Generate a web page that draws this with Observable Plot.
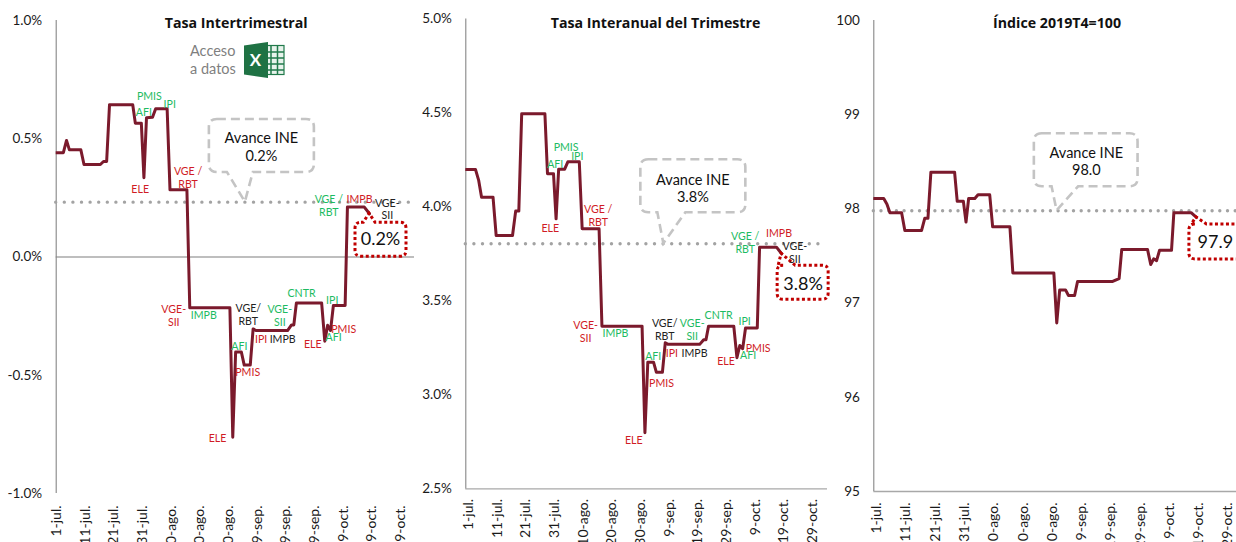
<!DOCTYPE html>
<html lang="es">
<head>
<meta charset="utf-8">
<script src="https://cdn.jsdelivr.net/npm/d3@7"></script>
<script src="https://cdn.jsdelivr.net/npm/@observablehq/plot@0.6"></script>
<style>
html,body{margin:0;padding:0;background:#fff;width:1236px;height:542px;overflow:hidden;font-family:Lato,sans-serif}
.panel{position:absolute;top:0}
.panel svg{display:block;background:transparent}
#acceso{position:absolute;left:190px;top:42px;color:#7f7f7f;font-size:14.5px;line-height:17.5px}
#xls{position:absolute;left:244px;top:42px}
</style>
</head>
<body>
<div id="root"></div>
<div id="acceso">Acceso<br>a datos</div>
<svg id="xls" width="41" height="36" viewBox="0 0 41 36">
  <rect x="14" y="3.5" width="26" height="29" fill="#e8f3ec" stroke="#217a4b" stroke-width="1.2"/>
  <path d="M27 4v28M33.5 4v28M14 10h26M14 16h26M14 22h26M14 28h26" stroke="#217a4b" stroke-width="1.5" fill="none"/>
  <path d="M0 3.5 L24 0 V36 L0 32.5 Z" fill="#1f7244"/>
  <text x="11.5" y="24" text-anchor="middle" font-family="Lato" font-weight="700" font-size="17" fill="#fff">X</text>
</svg>
<script>
// Shared dates (days from the start of the axis)
const days = [0,3.4,4.5,5.5,9.5,10.6,16.3,17.4,18.5,19.5,27.6,28.5,30.6,31.5,32.4,34.5,35.6,39.6,40.6,46.5,47.5,61.5,62.5,63.5,65.5,66.5,68.6,69.6,70.6,81.6,83,83.8,84.7,93.5,94.6,95.6,96.6,97.6,101.7,102.5,108.4,110.2];

const qoq = [0.441,0.441,0.493,0.453,0.453,0.391,0.391,0.404,0.404,0.644,0.644,0.566,0.566,0.335,0.589,0.591,0.627,0.627,0.284,0.284,-0.215,-0.215,-0.762,-0.402,-0.402,-0.457,-0.457,-0.304,-0.311,-0.311,-0.287,-0.287,-0.194,-0.194,-0.356,-0.289,-0.311,-0.205,-0.205,0.211,0.211,0.183];
const yoy = [4.199,4.199,4.141,4.052,4.052,3.848,3.848,3.978,3.978,4.496,4.496,4.177,4.177,3.937,4.201,4.201,4.240,4.240,3.884,3.884,3.366,3.366,2.799,3.174,3.174,3.120,3.120,3.278,3.269,3.269,3.294,3.294,3.366,3.366,3.198,3.263,3.246,3.356,3.356,3.786,3.786,3.751];
const index = [98.11,98.11,98.05,97.96,97.96,97.77,97.77,97.90,97.90,98.39,98.39,98.08,98.08,97.86,98.11,98.11,98.15,98.15,97.81,97.81,97.32,97.32,96.79,97.14,97.14,97.08,97.08,97.23,97.23,97.23,97.25,97.26,97.57,97.57,97.41,97.47,97.45,97.56,97.56,97.96,97.96,97.91];

const xTickDays = [1,11,21,31,41,51,61,71,81,91,101,111,121];
const xTickLabels = ["1-jul.","11-jul.","21-jul.","31-jul.","10-ago.","20-ago.","30-ago.","9-sep.","19-sep.","29-sep.","9-oct.","19-oct.","29-oct."];

// Indicator labels
const labelText = ["PMIS","AFI","IPI","ELE","VGE /\nRBT","VGE /\nRBT","IMPB","VGE-\nSII","VGE-\nSII","IMPB","VGE/\nRBT","AFI","PMIS","IPI","IMPB","VGE-\nSII","CNTR","IPI","PMIS","AFI","ELE","ELE"];
const labelTone = ["g","g","g","r","r","g","r","k","r","g","k","g","r","r","k","g","g","g","r","g","r","r"];
const qoqLabelDay = [33.4,31.5,40.5,30.2,46.9,96,106.7,116.4,41.9,52.4,67.9,64.8,67.7,72.4,79.9,78.9,86.5,97.2,101.2,97.7,90.4,57.2];
const qoqLabelVal = [0.679,0.615,0.648,0.288,0.336,0.219,0.246,0.203,-0.247,-0.247,-0.242,-0.378,-0.488,-0.345,-0.345,-0.246,-0.151,-0.180,-0.304,-0.336,-0.367,-0.763];
const yoyLabelDay = [35,31.2,38.9,29.5,46.2,97.5,109.3,114.8,41.8,52.2,69.4,65.4,68.3,71.9,79.8,79,88.2,97.3,102,98.5,90.8,58.6];
const yoyLabelVal = [4.318,4.230,4.274,3.886,3.955,3.810,3.861,3.758,3.336,3.329,3.347,3.210,3.065,3.224,3.224,3.350,3.428,3.396,3.251,3.212,3.182,2.762];

const tones = {g:"#1dbb62", r:"#d01c25", k:"#222222"};
const lineColor = "#7b1a2c";

const panels = [
  {left:0, width:420, marginLeft:55.7, marginRight:6, marginTop:20, marginBottom:49,
   xDomain:[0.9,125.9], yDomain:[-1,1], yTicks:[-1,-0.5,0,0.5,1], yFmt:d=>d.toFixed(1)+"%",
   series:qoq, base:0, title:"Tasa Intertrimestral", titleAt:[63.7,0.987],
   ine:0.232, ineLabel:"Avance INE\n0.2%", tip:[66.9,0.232], box:[-36,69,-82.7,-29.7,-18,8], txt:[16,-55.7],
   end:"0.2%", endBox:[-14,37,9,43,-5.7,6], endTxt:[11,26], dotEnd:125.9, dot:8.6, tickPad:12,
   labelDay:qoqLabelDay, labelVal:qoqLabelVal},
  {left:420, width:420, marginLeft:45.3, marginRight:13, marginTop:18.5, marginBottom:53.6,
   xDomain:[0,126.2], yDomain:[2.5,5], yTicks:[2.5,3,3.5,4,4.5,5], yFmt:d=>d.toFixed(1)+"%",
   series:yoy, base:2.5, title:"Tasa Interanual del Trimestre", titleAt:[66.2,4.976],
   ine:3.804, ineLabel:"Avance INE\n3.8%", tip:[69.1,3.804], box:[-23,82,-84,-31,-6,22], txt:[29,-56],
   end:"3.8%", endBox:[-4,47,12,46,-3,14], endTxt:[21.5,30], dotEnd:124.3, dot:8.6, tickPad:10,
   labelDay:yoyLabelDay, labelVal:yoyLabelVal},
  {left:830, width:406, marginLeft:43.3, marginRight:0, marginTop:20, marginBottom:51,
   xDomain:[0,123.9], yDomain:[95,100], yTicks:[95,96,97,98,99,100], yFmt:d=>String(d),
   series:index, base:95, title:"Índice 2019T4=100", titleAt:[62.6,99.968],
   ine:97.98, ineLabel:"Avance INE\n98.0", tip:[62.6,97.98], box:[-22.7,81,-77,-24,-5,21.6], txt:[29.3,-50],
   end:"97.9", endBox:[-7,49,7,42,-4.5,10.5], endTxt:[19,25], dotEnd:123.9, dot:7.7, tickPad:11,
   labelDay:[], labelVal:[]}
];

function calloutPath([L,R,T,B,bl,br], r){
  const bottom = T < 0 ? `H${br}L0,0L${bl},${B}` : "";
  const top = T > 0 ? `H${bl}L0,0L${br},${T}` : "";
  return `M${L+r},${T}${top}H${R-r}Q${R},${T} ${R},${T+r}V${B-r}Q${R},${B} ${R-r},${B}${bottom}H${L+r}Q${L},${B} ${L},${B-r}V${T+r}Q${L},${T} ${L+r},${T}Z`;
}
function callout(at, box, r, stroke, width, dash){
  return (index, scales) => {
    const g = document.createElementNS("http://www.w3.org/2000/svg","g");
    g.setAttribute("transform",`translate(${scales.x(at[0])},${scales.y(at[1])})`);
    const p = document.createElementNS("http://www.w3.org/2000/svg","path");
    p.setAttribute("d",calloutPath(box,r));
    p.setAttribute("fill","none");
    p.setAttribute("stroke",stroke);
    p.setAttribute("stroke-width",width);
    p.setAttribute("stroke-dasharray",dash);
    g.appendChild(p);
    return g;
  };
}

const root = document.getElementById("root");
for (const P of panels) {
  const table = days.map((d,i)=>({d, v:P.series[i]}));
  const last = table[table.length-1];
  const labels = P.labelDay.map((d,i)=>({d, v:P.labelVal[i], t:labelText[i], c:tones[labelTone[i]]}));
  const plot = Plot.plot({
    width:P.width, height:542,
    marginLeft:P.marginLeft, marginRight:P.marginRight, marginTop:P.marginTop, marginBottom:P.marginBottom,
    style:{fontFamily:"Lato, sans-serif", background:"transparent", overflow:"hidden"},
    x:{domain:P.xDomain, label:null},
    y:{domain:P.yDomain, label:null},
    marks:[
      Plot.ruleY([P.base],{stroke:"#a8a8a8",strokeWidth:1.4}),
      Plot.ruleX([P.xDomain[0]],{stroke:"#868686",strokeWidth:1.1}),
      Plot.axisX({ticks:xTickDays, tickFormat:d=>xTickLabels[xTickDays.indexOf(d)], tickRotate:-90, tickSize:0, tickPadding:P.tickPad, fontSize:14, label:null, color:"#1a1a1a"}),
      Plot.axisY({ticks:P.yTicks, tickFormat:P.yFmt, tickSize:0, tickPadding:14, fontSize:13.5, label:null, color:"#1a1a1a"}),
      Plot.ruleY([P.ine],{x1:P.xDomain[0],x2:P.dotEnd,stroke:"#a3a3a3",strokeWidth:3.4,strokeLinecap:"round",strokeDasharray:`0 ${P.dot}`}),
      Plot.line(table,{x:"d",y:"v",stroke:lineColor,strokeWidth:3,clip:true}),
      callout(P.tip,P.box,8,"#c4c4c4",2.6,"9 5"),
      Plot.text([{d:P.tip[0],v:P.tip[1],t:P.ineLabel}],{x:"d",y:"v",text:"t",dx:P.txt[0],dy:P.txt[1],fontSize:14.5,lineHeight:1.2,fill:"#111"}),
      callout([last.d,last.v],P.endBox,6,"#c00000",3,"3 2.5"),
      Plot.text([{d:last.d,v:last.v,t:P.end}],{x:"d",y:"v",text:"t",dx:P.endTxt[0],dy:P.endTxt[1],fontSize:18,fill:"#111"}),
      Plot.text(labels,{x:"d",y:"v",text:"t",fill:"c",fontSize:10.6,lineHeight:1.2}),
      Plot.text([{d:P.titleAt[0],v:P.titleAt[1],t:P.title}],{x:"d",y:"v",text:"t",fontSize:14.2,fontWeight:"bold",fontFamily:"Open Sans",fill:"#111"})
    ]
  });
  const wrap = document.createElement("div");
  wrap.className = "panel";
  wrap.style.left = P.left+"px";
  wrap.appendChild(plot);
  root.appendChild(wrap);
}
</script>
</body>
</html>
